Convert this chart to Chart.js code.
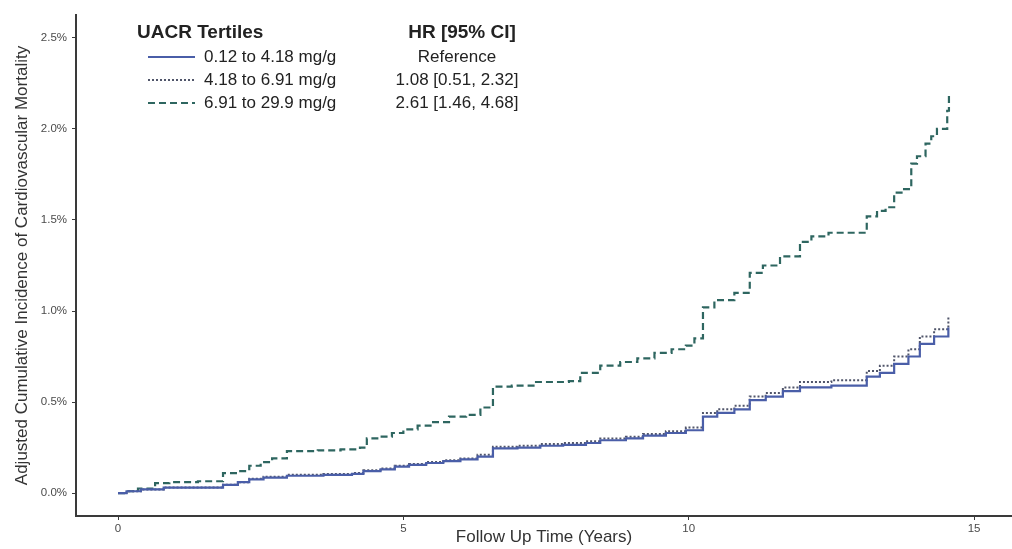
<!DOCTYPE html>
<html>
<head>
<meta charset="utf-8">
<script src="https://cdn.jsdelivr.net/npm/chart.js@4.4.0/dist/chart.umd.min.js"></script>
<style>
    html, body { margin: 0; padding: 0; background: #fff; }
    #wrap { width: 1012px; height: 549px; }
</style>
</head>
<body>
<div id="wrap"><canvas id="cifGraph" width="1012" height="549"></canvas></div>
<script>
/*** Data (years, cumulative incidence in %) ***/
const lowTimes = [0, 0.15, 0.4, 0.8, 1.84, 2.1, 2.3, 2.55, 2.96, 3.6, 4.1, 4.3, 4.6, 4.85, 5.1, 5.4, 5.7, 6.0, 6.3, 6.57, 7.0, 7.4, 7.8, 8.2, 8.45, 8.9, 9.2, 9.6, 9.95, 10.25, 10.5, 10.8, 11.07, 11.35, 11.65, 11.95, 12.5, 13.12, 13.35, 13.6, 13.85, 14.05, 14.3, 14.55];
const lowValues = [0, 0.01, 0.02, 0.03, 0.045, 0.06, 0.075, 0.085, 0.095, 0.10, 0.105, 0.12, 0.13, 0.145, 0.155, 0.165, 0.175, 0.185, 0.2, 0.245, 0.25, 0.26, 0.265, 0.275, 0.29, 0.30, 0.315, 0.33, 0.345, 0.42, 0.44, 0.46, 0.51, 0.53, 0.56, 0.58, 0.59, 0.64, 0.66, 0.71, 0.75, 0.82, 0.86, 0.91];

const midTimes = [0, 0.15, 0.4, 0.8, 1.84, 2.1, 2.3, 2.55, 2.96, 3.6, 4.1, 4.3, 4.6, 4.85, 5.1, 5.4, 5.7, 6.0, 6.3, 6.57, 7.0, 7.4, 7.8, 8.2, 8.45, 8.9, 9.2, 9.6, 9.95, 10.25, 10.5, 10.8, 11.07, 11.35, 11.65, 11.95, 12.5, 13.12, 13.35, 13.6, 13.85, 14.05, 14.3, 14.55];
const midValues = [0, 0.01, 0.02, 0.03, 0.045, 0.06, 0.078, 0.09, 0.10, 0.105, 0.11, 0.125, 0.135, 0.15, 0.16, 0.17, 0.18, 0.19, 0.21, 0.255, 0.26, 0.27, 0.275, 0.285, 0.30, 0.31, 0.325, 0.34, 0.36, 0.44, 0.46, 0.48, 0.53, 0.55, 0.58, 0.61, 0.62, 0.67, 0.70, 0.75, 0.79, 0.86, 0.90, 0.97];

const highTimes = [0, 0.15, 0.35, 0.65, 0.9, 1.4, 1.84, 2.1, 2.3, 2.5, 2.7, 2.96, 3.5, 3.9, 4.24, 4.36, 4.6, 4.8, 5.0, 5.25, 5.5, 5.8, 6.1, 6.35, 6.57, 6.9, 7.3, 7.9, 8.1, 8.45, 8.8, 9.1, 9.4, 9.7, 9.95, 10.1, 10.25, 10.45, 10.8, 11.07, 11.3, 11.6, 11.95, 12.15, 12.45, 13.12, 13.3, 13.45, 13.6, 13.75, 13.9, 14.0, 14.15, 14.25, 14.35, 14.53, 14.56];
const highValues = [0, 0.01, 0.025, 0.055, 0.06, 0.065, 0.11, 0.12, 0.15, 0.17, 0.19, 0.23, 0.235, 0.24, 0.25, 0.30, 0.31, 0.33, 0.35, 0.37, 0.39, 0.42, 0.43, 0.47, 0.585, 0.59, 0.61, 0.615, 0.66, 0.70, 0.72, 0.74, 0.77, 0.79, 0.81, 0.85, 1.02, 1.06, 1.10, 1.21, 1.25, 1.30, 1.38, 1.41, 1.43, 1.52, 1.55, 1.57, 1.65, 1.67, 1.81, 1.85, 1.92, 1.96, 2.0, 2.1, 2.2];

const tertileLabels = ['0.12 to 4.18 mg/g', '4.18 to 6.91 mg/g', '6.91 to 29.9 mg/g'];
const hrLabels = ['Reference', '1.08 [0.51, 2.32]', '2.61 [1.46, 4.68]'];
const xTicks = [0, 5, 10, 15];
const yTicks = [0, 0.5, 1.0, 1.5, 2.0, 2.5];

/**
 * Zips times and values into {x, y} points
 */
function toPoints(times, values) {
    return times.map((t, i) => ({ x: t, y: values[i] }));
}

/**
 * Draws the two-column legend (tertiles and hazard ratios)
 */
const tableLegend = {
    id: 'tableLegend',
    afterDraw(chart) {
        const ctx = chart.ctx;
        ctx.save();
        ctx.fillStyle = '#222';
        ctx.textBaseline = 'middle';
        ctx.font = 'bold 19px "Liberation Sans", Arial, sans-serif';
        ctx.textAlign = 'left';
        ctx.fillText('UACR Tertiles', 137, 33);
        ctx.textAlign = 'center';
        ctx.fillText('HR [95% CI]', 462, 33);

        ctx.font = '17px "Liberation Sans", Arial, sans-serif';
        const rowY = [57, 80, 103];
        chart.data.datasets.forEach((ds, i) => {
            ctx.save();
            ctx.strokeStyle = ds.borderColor;
            ctx.lineWidth = 2;
            ctx.setLineDash(ds.borderDash || []);
            ctx.beginPath();
            ctx.moveTo(148, rowY[i]);
            ctx.lineTo(195, rowY[i]);
            ctx.stroke();
            ctx.restore();
            ctx.textAlign = 'left';
            ctx.fillText(tertileLabels[i], 204, rowY[i]);
            ctx.textAlign = 'center';
            ctx.fillText(hrLabels[i], 457, rowY[i]);
        });
        ctx.restore();
    }
};

function renderPage() {
    const datasets = [
        {
            label: tertileLabels[0],
            data: toPoints(lowTimes, lowValues),
            borderColor: '#4a5ea8',
            borderWidth: 2.2,
            stepped: true,
            pointRadius: 0,
            fill: false
        },
        {
            label: tertileLabels[1],
            data: toPoints(midTimes, midValues),
            borderColor: '#50556a',
            borderWidth: 2,
            borderDash: [2, 2],
            stepped: true,
            pointRadius: 0,
            fill: false
        },
        {
            label: tertileLabels[2],
            data: toPoints(highTimes, highValues),
            borderColor: '#2e6660',
            borderWidth: 2.2,
            borderDash: [7, 4],
            stepped: true,
            pointRadius: 0,
            fill: false
        }
    ];

    const tickFont = { family: '"Liberation Sans", Arial, sans-serif', size: 11.5 };
    const titleFont = { family: '"Liberation Sans", Arial, sans-serif', size: 17 };

    const ctx = document.getElementById('cifGraph').getContext('2d');
    new Chart(ctx, {
        type: 'line',
        data: { datasets: datasets },
        options: {
            responsive: false,
            animation: false,
            layout: { padding: { left: 0, right: 0, top: 15, bottom: 0 } },
            plugins: {
                legend: { display: false },
                tooltip: { enabled: false }
            },
            scales: {
                x: {
                    type: 'linear',
                    min: -0.736,
                    max: 15.665,
                    afterBuildTicks: scale => { scale.ticks = xTicks.map(v => ({ value: v })); },
                    afterFit: scale => { scale.height = 33; },
                    border: { display: true, color: '#3a3a3a', width: 2 },
                    grid: { drawOnChartArea: false, drawTicks: true, tickLength: 4, color: '#3a3a3a' },
                    ticks: { color: '#4a4a4a', font: tickFont, padding: 2, maxRotation: 0 },
                    title: {
                        display: true,
                        text: 'Follow Up Time (Years)',
                        color: '#333',
                        font: titleFont,
                        padding: { top: 0, bottom: 1 }
                    }
                },
                y: {
                    type: 'linear',
                    min: -0.126,
                    max: 2.626,
                    afterBuildTicks: scale => { scale.ticks = yTicks.map(v => ({ value: v })); },
                    afterFit: scale => { scale.width = 76; },
                    border: { display: true, color: '#3a3a3a', width: 2 },
                    grid: { drawOnChartArea: false, drawTicks: true, tickLength: 4, color: '#3a3a3a' },
                    ticks: {
                        color: '#4a4a4a',
                        font: tickFont,
                        padding: 5,
                        callback: v => v.toFixed(1) + '%'
                    },
                    title: {
                        display: true,
                        text: 'Adjusted Cumulative Incidence of Cardiovascular Mortality',
                        color: '#333',
                        font: titleFont,
                        padding: { top: 12, bottom: 0 }
                    }
                }
            }
        },
        plugins: [tableLegend]
    });
}

renderPage();
</script>
</body>
</html>
